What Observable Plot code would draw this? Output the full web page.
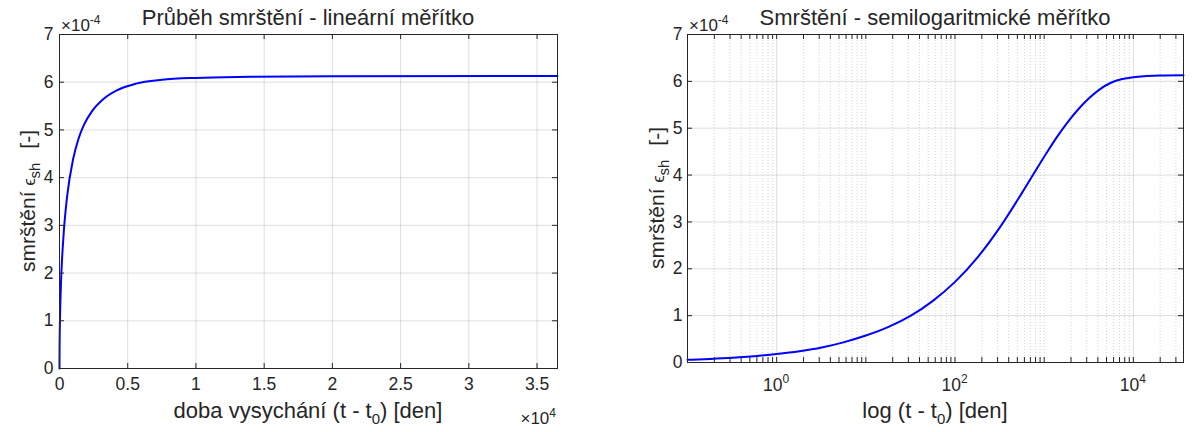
<!DOCTYPE html>
<html>
<head>
<meta charset="utf-8">
<script src="https://cdn.jsdelivr.net/npm/d3@7"></script>
<script src="https://cdn.jsdelivr.net/npm/@observablehq/plot@0.6"></script>
<style>
  html, body { margin: 0; background: #fff; }
  #chart { position: relative; width: 1194px; height: 432px; overflow: hidden; }
  #chart svg { position: absolute; top: 0; }
</style>
</head>
<body>
<div id="chart"></div>
<script>
// Drying time t - t0 in days, and total shrinkage strain in units of 1e-4
const days   = [0, 0.1, 0.18, 0.32, 0.56, 1, 1.8, 3.2, 5.6, 10, 18, 32, 56, 100, 180, 320, 560, 1000, 1400, 1800,
                2400, 3200, 4200, 5600, 7500, 10000, 14000, 20000, 36500];
const strain = [0, 0.057, 0.076, 0.101, 0.135, 0.18, 0.24, 0.32, 0.43, 0.575, 0.76, 1.00, 1.31, 1.72, 2.25, 2.89, 3.61, 4.39, 4.82, 5.11,
                5.40, 5.645, 5.83, 5.97, 6.05, 6.09, 6.112, 6.125, 6.13];

// Axis ticks
const yTicks = [0, 1, 2, 3, 4, 5, 6, 7];
const linTicks = [0, 5000, 10000, 15000, 20000, 25000, 30000, 35000];
const linTickLabels = ["0", "0.5", "1", "1.5", "2", "2.5", "3", "3.5"];
const logMajor = [1, 100, 10000];
const logMajorExp = ["0", "2", "4"];

// Text
const titleLin = "Průběh smrštění - lineární měřítko";
const titleLog = "Smrštění - semilogaritmické měřítko";
const xLabelLin = ["doba vysychání (t - t", "0", ") [den]"];
const xLabelLog = ["log (t - t", "0", ") [den]"];
const yLabel = ["smrštění", "ϵ", "sh", "[-]"];

const series = days.map((t, i) => ({t, e: strain[i]}));
const logSeries = series.filter(d => d.t > 0);

const W = 597, H = 432;
const ink = "#262626";
const font = '"Liberation Sans", Arial, Helvetica, sans-serif';
const blue = "#0000ff";
const labelSize = 22;

// minor log ticks (2..9 × 10^k, plus the unlabelled decades)
const xLogDomain = [0.1, 36500];
const logMinor = [];
for (let k = -1; k <= 4; k++) {
  for (let m = 1; m <= 9; m++) {
    const v = +(m * Math.pow(10, k)).toPrecision(6);
    if (v >= xLogDomain[0] && v <= xLogDomain[1] && !logMajor.includes(v)) logMinor.push(v);
  }
}

function addText(svg, x, y, parts, {anchor = "middle", size = labelSize, rotate = 0} = {}) {
  const t = d3.select(svg).append("text")
    .attr("transform", `translate(${x},${y})` + (rotate ? ` rotate(${rotate})` : ""))
    .attr("text-anchor", anchor)
    .attr("font-family", font)
    .attr("font-size", size)
    .attr("fill", ink)
    .attr("stroke", "none");
  for (const p of parts) {
    const s = t.append("tspan").text(p.text);
    if (p.size) s.attr("font-size", p.size);
    if (p.dx) s.attr("dx", p.dx);
    if (p.dy) s.attr("dy", p.dy);
  }
  return t;
}

// MATLAB-style ticks pointing into the box on all four sides
function inwardTicks(xs, ys, iw, ih, len) {
  return [
    Plot.tickX(xs, {x: d => d, stroke: ink, insetTop: ih - len}),
    Plot.tickX(xs, {x: d => d, stroke: ink, insetBottom: ih - len}),
    Plot.tickY(ys, {y: d => d, stroke: ink, insetRight: iw - len}),
    Plot.tickY(ys, {y: d => d, stroke: ink, insetLeft: iw - len})
  ];
}

const style = {fontFamily: font, fontSize: "17.5px", color: ink, background: "transparent", overflow: "visible"};

// ---- left panel: linear time axis ----
const mL = {left: 59, right: 40, top: 34, bottom: 64};
const iwL = W - mL.left - mL.right, ihL = H - mL.top - mL.bottom;
const left = Plot.plot({
  width: W, height: H,
  marginLeft: mL.left, marginRight: mL.right, marginTop: mL.top, marginBottom: mL.bottom,
  style,
  x: {domain: [0, 36500]},
  y: {domain: [0, 7]},
  marks: [
    Plot.ruleX(linTicks, {x: d => d, stroke: ink, strokeOpacity: 0.15}),
    Plot.ruleY(yTicks, {y: d => d, stroke: ink, strokeOpacity: 0.15}),
    Plot.line(series, {x: "t", y: "e", stroke: blue, strokeWidth: 2, curve: "monotone-x"}),
    Plot.frame({stroke: ink}),
    ...inwardTicks(linTicks, yTicks, iwL, ihL, 5),
    Plot.axisX({ticks: linTicks, tickSize: 0, tickPadding: 9, label: null,
                tickFormat: d => linTickLabels[linTicks.indexOf(d)]}),
    Plot.axisY({ticks: yTicks, tickSize: 0, tickPadding: 6, label: null, tickFormat: d => String(d)})
  ]
});
left.style.left = "0px";

const cxL = mL.left + iwL / 2, cyL = mL.top + ihL / 2;
addText(left, cxL, 25, [{text: titleLin}]);
addText(left, cxL, 418, [
  {text: xLabelLin[0]}, {text: xLabelLin[1], size: 15, dy: 6}, {text: xLabelLin[2], dy: -6}
]);
addText(left, 35, cyL, [
  {text: yLabel[0]}, {text: yLabel[1], size: 16, dx: 6}, {text: yLabel[2], size: 15, dy: 5},
  {text: yLabel[3], dx: 14, dy: -5}
], {size: 21, rotate: -90});
addText(left, mL.left + 2, 31, [{text: "×10"}, {text: "-4", size: 12, dy: -7}], {anchor: "start", size: 17});
addText(left, W - mL.right - 1, 424, [{text: "×10"}, {text: "4", size: 12, dy: -7}], {anchor: "end", size: 17});

// ---- right panel: logarithmic time axis ----
const mR = {left: 90, right: 11, top: 34, bottom: 70};
const iwR = W - mR.left - mR.right, ihR = H - mR.top - mR.bottom;
const right = Plot.plot({
  width: W, height: H,
  marginLeft: mR.left, marginRight: mR.right, marginTop: mR.top, marginBottom: mR.bottom,
  style,
  x: {type: "log", domain: xLogDomain, axis: null},
  y: {domain: [0, 7]},
  marks: [
    Plot.ruleX(logMinor, {x: d => d, stroke: ink, strokeOpacity: 0.2, strokeDasharray: "1,2"}),
    Plot.ruleX(logMajor, {x: d => d, stroke: ink, strokeOpacity: 0.15}),
    Plot.ruleY(yTicks, {y: d => d, stroke: ink, strokeOpacity: 0.15}),
    Plot.line(logSeries, {x: "t", y: "e", stroke: blue, strokeWidth: 2, curve: "monotone-x"}),
    Plot.frame({stroke: ink}),
    ...inwardTicks(logMajor.concat(logMinor), yTicks, iwR, ihR, 5),
    Plot.axisY({ticks: yTicks, tickSize: 0, tickPadding: 5, label: null, tickFormat: d => String(d)})
  ]
});
right.style.left = W + "px";

const xs = right.scale("x");
logMajor.forEach((v, i) => {
  addText(right, xs.apply(v), 391, [{text: "10"}, {text: logMajorExp[i], size: 12, dy: -8}], {size: 17.5});
});
const cxR = mR.left + iwR / 2, cyR = mR.top + ihR / 2;
addText(right, cxR, 25, [{text: titleLog}]);
addText(right, cxR, 418, [
  {text: xLabelLog[0]}, {text: xLabelLog[1], size: 15, dy: 6}, {text: xLabelLog[2], dy: -6}
]);
addText(right, 67, cyR, [
  {text: yLabel[0]}, {text: yLabel[1], size: 16, dx: 6}, {text: yLabel[2], size: 15, dy: 5},
  {text: yLabel[3], dx: 14, dy: -5}
], {size: 21, rotate: -90});
addText(right, mR.left + 2, 31, [{text: "×10"}, {text: "-4", size: 12, dy: -7}], {anchor: "start", size: 17});

const chart = document.getElementById("chart");
chart.append(left, right);
</script>
</body>
</html>
